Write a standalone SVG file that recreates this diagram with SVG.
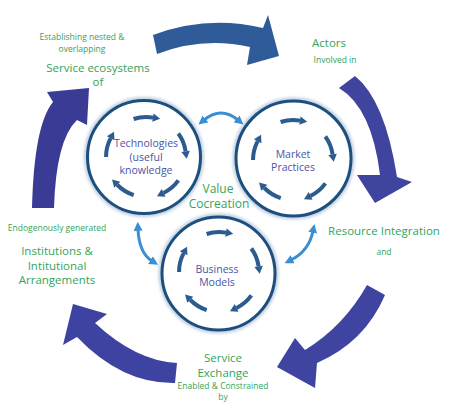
<svg xmlns="http://www.w3.org/2000/svg" xmlns:xlink="http://www.w3.org/1999/xlink" width="455" height="408" viewBox="0 0 455 408">
<defs>
<style>
.g{fill:#35a35a;font-family:"Open Sans","Liberation Sans",sans-serif;text-anchor:middle}
.gl{font-size:11.5px}
.gs{font-size:8.5px}
.in{fill:#4a55a6;font-family:"Open Sans","Liberation Sans",sans-serif;font-size:10.5px;text-anchor:middle}
.ring{fill:#fff;stroke:#1c4f7d;stroke-width:3}
.glow{fill:none;stroke:#8aa7c6;stroke-width:7;opacity:0.55;filter:url(#blur)}
.sarc{fill:none;stroke:#2b5b8f;stroke-width:4}
.shead{fill:#2b5b8f}
.dbl{fill:none;stroke:#3a8fd4;stroke-width:3;marker-start:url(#dh);marker-end:url(#dh)}
</style>
<filter id="blur" x="-20%" y="-20%" width="140%" height="140%"><feGaussianBlur stdDeviation="1.8"/></filter>
<marker id="dh" viewBox="0 0 10 10" refX="2" refY="5" markerWidth="3" markerHeight="3" orient="auto-start-reverse"><path d="M0,0 L10,5 L0,10 z" fill="#3a8fd4"/></marker>
<g id="sa"><path class="sarc" d="M-12.4,-38 A40,40 0 0 1 7,-39.4"/><polygon class="shead" points="7.6,-43.6 14.2,-38.2 6.2,-35.2"/></g>
<g id="ring5">
<use xlink:href="#sa" href="#sa"/>
<use xlink:href="#sa" href="#sa" transform="rotate(72)"/>
<use xlink:href="#sa" href="#sa" transform="rotate(144)"/>
<use xlink:href="#sa" href="#sa" transform="rotate(216)"/>
<use xlink:href="#sa" href="#sa" transform="rotate(288)"/>
</g>
</defs>
<rect width="455" height="408" fill="#fff"/>

<g id="connectors">
<path id="arrow-top" fill="#2f5c98" d="M153,35 A190,190 0 0 1 263,28 L268,15 L279,56 L247,65 L250,47 A160,160 0 0 0 157,54 Z"/>
<path id="arrow-right" fill="#3f449f" d="M355,76 Q385,100 397,177 L412,182 L375,203 L357,175 L380,175 Q372,108 339,88 Z"/>
<path id="arrow-bottom-right" fill="#3f44a0" d="M367,285 L385,295 Q365,342 317,363 L315,388 L277,367 L295,338 L305,350 Q344,326 367,285 Z"/>
<path id="arrow-bottom-left" fill="#3e42a0" d="M177,363 L175,383 Q122,384 77,337 L63,345 L73,304 L107,314 L95,323 Q136,361 177,363 Z"/>
<path id="arrow-left" fill="#3a3b95" d="M32,208 L54,208 Q56,140 77,120 L87,125 L89,88 L47,92 L53,102 Q34,125 32,208 Z"/>
<path class="dbl" d="M204,120 Q221,106 238,120"/>
<path class="dbl" d="M138,229 Q139,253 152,261"/>
<path class="dbl" d="M313,231 Q309,251 291,260"/>
</g>

<g id="node-technologies">
<circle class="glow" cx="144" cy="157" r="56.5"/>
<circle class="ring" cx="144" cy="157" r="56.5"/>
<use xlink:href="#ring5" href="#ring5" transform="translate(146,157)"/>
<text class="in" x="146" y="147">Technologies</text>
<text class="in" x="146" y="160.5">(useful</text>
<text class="in" x="146" y="174">knowledge</text>
</g>

<g id="node-market">
<circle class="glow" cx="293.5" cy="158.5" r="57.5"/>
<circle class="ring" cx="293.5" cy="158.5" r="57.5"/>
<use xlink:href="#ring5" href="#ring5" transform="translate(293,160)"/>
<text class="in" x="293" y="158">Market</text>
<text class="in" x="293" y="171">Practices</text>
</g>

<g id="node-business">
<circle class="glow" cx="218.5" cy="273.5" r="56.5"/>
<circle class="ring" cx="218.5" cy="273.5" r="56.5"/>
<use xlink:href="#ring5" href="#ring5" transform="translate(219,272)"/>
<text class="in" x="217" y="273">Business</text>
<text class="in" x="217" y="286">Models</text>
</g>

<g id="node-value">
<text class="g" x="218" y="192.5" font-size="12">Value</text>
<text class="g" x="219" y="208" font-size="12">Cocreation</text>
</g>

<g id="node-service-ecosystems">
<text class="g gs" x="82" y="40">Establishing nested &amp;</text>
<text class="g gs" x="82" y="51.5">overlapping</text>
<text class="g gl" x="98" y="71.5">Service ecosystems</text>
<text class="g gl" x="98" y="85.5">of</text>
</g>

<g id="node-actors">
<text class="g gl" x="329" y="47">Actors</text>
<text class="g gs" x="335" y="63">Involved in</text>
</g>

<g id="node-resource">
<text class="g gl" x="384" y="235">Resource Integration</text>
<text class="g gs" x="384" y="255">and</text>
</g>

<g id="node-service-exchange">
<text class="g gl" x="223" y="362">Service</text>
<text class="g gl" x="223" y="377">Exchange</text>
<text class="g gs" x="223" y="388.5">Enabled &amp; Constrained</text>
<text class="g gs" x="223" y="399.5">by</text>
</g>

<g id="node-institutions">
<text class="g gs" x="57" y="230.5">Endogenously generated</text>
<text class="g gl" x="57" y="255">Institutions &amp;</text>
<text class="g gl" x="57" y="269.5">Intitutional</text>
<text class="g gl" x="57" y="284">Arrangements</text>
</g>
</svg>
